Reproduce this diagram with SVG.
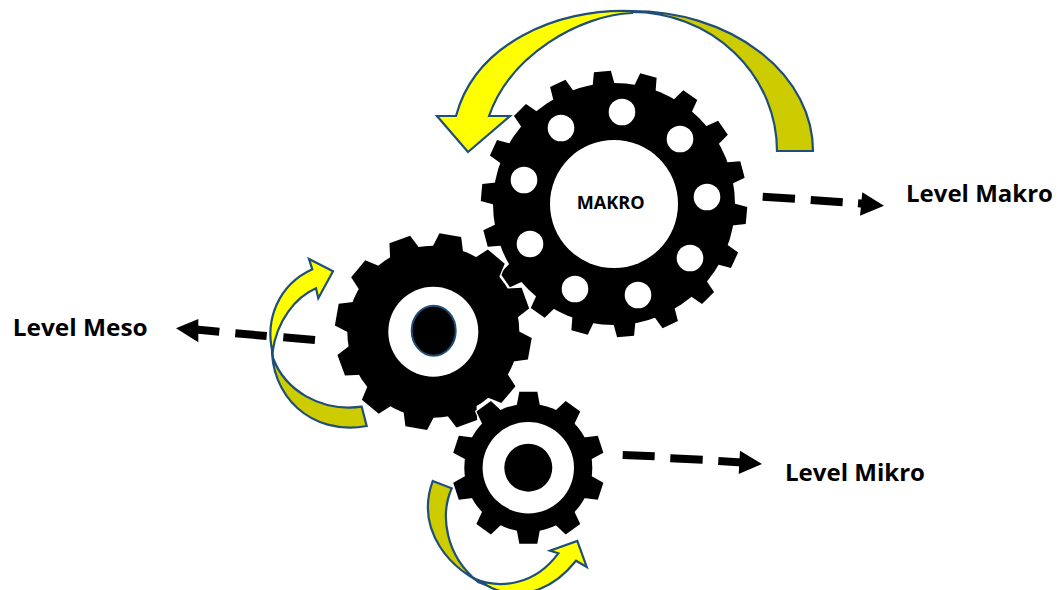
<svg xmlns="http://www.w3.org/2000/svg" width="1058" height="590" viewBox="0 0 1058 590">
<style>
.bg{fill:#fff}
.halo{fill:#000;stroke:#fff;stroke-width:2.5;stroke-linejoin:round}
.solid{fill:#000}
.hole{fill:#fff}
.curve{stroke:#1f4e79;stroke-width:2.2;stroke-linejoin:miter}
.yellow{fill:#ffff00}
.dark{fill:#cccc00}
.dash{stroke:#000;stroke-width:8;fill:none}
.head{fill:#000}
.label{font-family:"Open Sans","Lato","Liberation Sans",sans-serif;font-weight:700;fill:#000;font-size:23.5px}
.inner-label{font-size:17px}
</style>
<defs>
<path id="tb" d="M-11.5,-117 L-8.5,-133 L8.5,-133 L11.5,-117 Z"/>
<path id="tm" d="M-16,-82 L-11,-98 L11,-98 L16,-82 Z"/>
<path id="ts" d="M-12,-60 L-9,-76 L9,-76 L12,-60 Z"/>
<g id="big-shape">
<circle r="121"/>
<use href="#tb" transform="rotate(-5)"/><use href="#tb" transform="rotate(15)"/><use href="#tb" transform="rotate(35)"/>
<use href="#tb" transform="rotate(55)"/><use href="#tb" transform="rotate(75)"/><use href="#tb" transform="rotate(95)"/>
<use href="#tb" transform="rotate(115)"/><use href="#tb" transform="rotate(135)"/><use href="#tb" transform="rotate(155)"/>
<use href="#tb" transform="rotate(175)"/><use href="#tb" transform="rotate(195)"/><use href="#tb" transform="rotate(215)"/>
<use href="#tb" transform="rotate(235)"/><use href="#tb" transform="rotate(255)"/><use href="#tb" transform="rotate(275)"/>
<use href="#tb" transform="rotate(295)"/><use href="#tb" transform="rotate(315)"/><use href="#tb" transform="rotate(335)"/>
</g>
<g id="meso-shape">
<circle r="86"/>
<use href="#tm" transform="rotate(10)"/><use href="#tm" transform="rotate(40)"/><use href="#tm" transform="rotate(70)"/>
<use href="#tm" transform="rotate(100)"/><use href="#tm" transform="rotate(130)"/><use href="#tm" transform="rotate(160)"/>
<use href="#tm" transform="rotate(190)"/><use href="#tm" transform="rotate(220)"/><use href="#tm" transform="rotate(250)"/>
<use href="#tm" transform="rotate(280)"/><use href="#tm" transform="rotate(310)"/><use href="#tm" transform="rotate(340)"/>
</g>
<g id="micro-shape">
<circle r="64"/>
<use href="#ts"/><use href="#ts" transform="rotate(36)"/><use href="#ts" transform="rotate(72)"/>
<use href="#ts" transform="rotate(108)"/><use href="#ts" transform="rotate(144)"/><use href="#ts" transform="rotate(180)"/>
<use href="#ts" transform="rotate(216)"/><use href="#ts" transform="rotate(252)"/><use href="#ts" transform="rotate(288)"/>
<use href="#ts" transform="rotate(324)"/>
</g>
</defs>
<rect class="bg" width="1058" height="590"/>
<g id="connectors">
<path class="dash" d="M762.7,196.7 L795,198.7 M810.7,200 L842.7,202.3 M858,203.3 L866,204"/>
<path class="head" d="M862.3,192.3 L884,205.7 L860,215.7 Z"/>
<path class="dash" d="M196,329.5 L219.3,331.7 M235.3,333.3 L266.7,336 M283.3,337.3 L315,340"/>
<path class="head" d="M176,328.3 L198.3,319 L198.3,342.3 Z"/>
<path class="dash" d="M622.7,455 L654.7,456.3 M670.3,458.3 L702.7,459.7 M718.3,461 L742,462.4"/>
<path class="head" d="M740,450.7 L762,464 L738.7,474 Z"/>
</g>
<g id="gear-makro" transform="translate(614 204)">
<use href="#big-shape" class="solid"/>
<circle class="hole" r="64"/>
<circle class="hole" cx="8" cy="-92" r="13.3"/>
<circle class="hole" cx="66" cy="-65" r="13.3"/>
<circle class="hole" cx="93" cy="-7" r="13.3"/>
<circle class="hole" cx="76" cy="54" r="13.3"/>
<circle class="hole" cx="24" cy="91" r="13.3"/>
<circle class="hole" cx="-39" cy="85" r="13.3"/>
<circle class="hole" cx="-84" cy="40" r="13.3"/>
<circle class="hole" cx="-90" cy="-24" r="13.3"/>
<circle class="hole" cx="-53" cy="-76" r="13.3"/>
<text class="label inner-label" x="-37.3" y="5" textLength="68" lengthAdjust="spacingAndGlyphs">MAKRO</text>
</g>
<g id="gear-meso" transform="translate(433.3 331.7)">
<use href="#meso-shape" class="halo"/>
<use href="#meso-shape" class="solid"/>
<circle class="hole" r="45"/>
<ellipse cx="0.4" cy="-1" rx="22" ry="25" fill="#000" stroke="#1f4e79" stroke-width="2"/>
</g>
<g id="gear-mikro" transform="translate(528.3 467.7)">
<use href="#micro-shape" class="halo"/>
<use href="#micro-shape" class="solid"/>
<circle class="hole" r="45.7"/>
<circle class="solid" r="24"/>
</g>
<g id="arrow-makro">
<path class="curve dark" d="M632,11 A181,140 0 0 1 813,151 L777,151 A145,139 0 0 0 632,12 Z"/>
<path class="curve yellow" d="M632,11 C555,8 475,45 456,116 L437,116 L468,152 L510,116 L489,116 C510,55 580,15 632,13 Z"/>
</g>
<g id="arrow-meso">
<path class="curve dark" d="M272,345 C270,395 310,436 366.7,426 L361.7,406.7 C320,412 285,390 273,358 Z"/>
<path class="curve yellow" d="M312.3,269.3 L309,259 L333,271.3 L318.3,298.3 L316,288.3 C296,297 277,320 272.5,352 C265,320 278,285 312.3,269.3 Z"/>
</g>
<g id="arrow-mikro">
<path class="curve dark" d="M432.7,481 L451.7,488.3 C440,515 445,555 478,582 L491.7,587 C450,572 415,530 432.7,481 Z"/>
<path class="curve yellow" d="M473,578 C500,590 535,585 558.3,553.3 L550,550.7 L577.3,541 L586.7,567 L576,560.7 C555,587 525,602 491.7,588 Z"/>
</g>
<g id="labels">
<text class="label" x="906" y="202" textLength="147" lengthAdjust="spacingAndGlyphs">Level Makro</text>
<text class="label" x="12.7" y="336" textLength="135" lengthAdjust="spacingAndGlyphs">Level Meso</text>
<text class="label" x="785" y="480.7" textLength="140" lengthAdjust="spacingAndGlyphs">Level Mikro</text>
</g>
</svg>
